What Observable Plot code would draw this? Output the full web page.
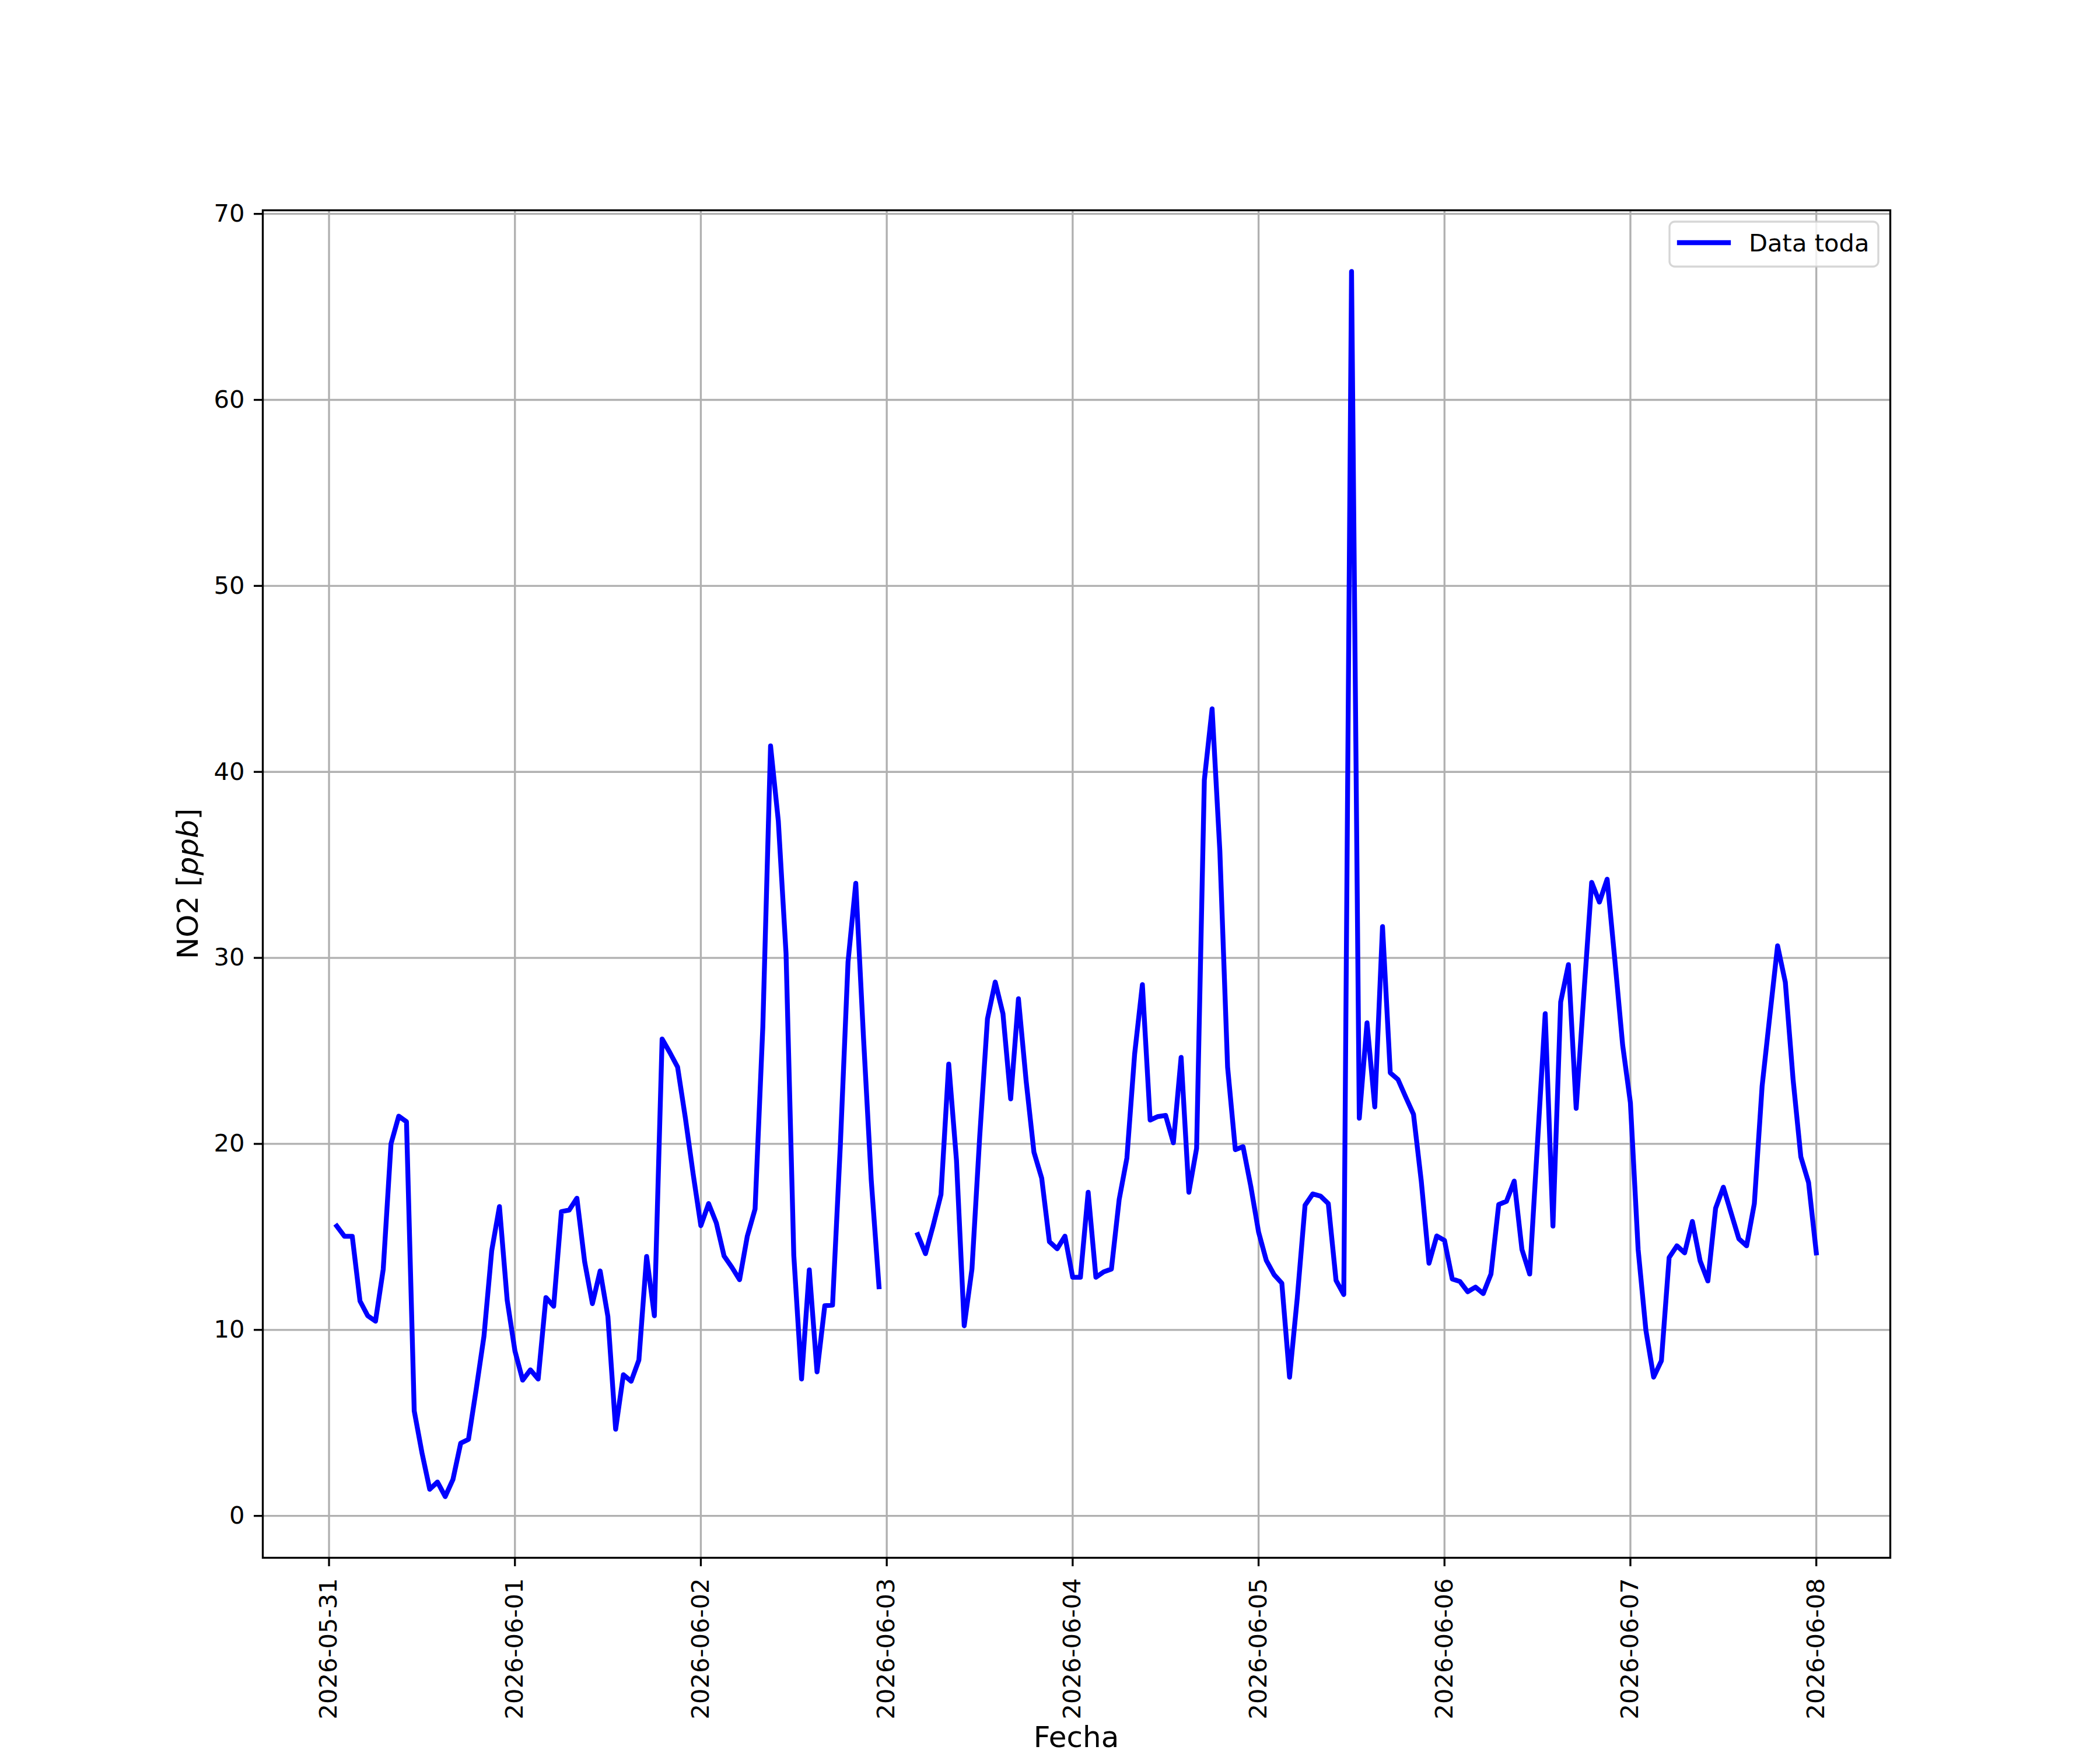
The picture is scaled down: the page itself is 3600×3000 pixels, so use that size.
<!DOCTYPE html>
<html>
<head>
<meta charset="utf-8">
<script src="https://cdn.jsdelivr.net/npm/d3@7"></script>
<script src="https://cdn.jsdelivr.net/npm/@observablehq/plot@0.6"></script>
<style>
  html, body { margin: 0; padding: 0; background: #ffffff; }
  #chart { position: relative; width: 3600px; height: 3000px; }
  #chart svg { font-family: "DejaVu Sans", sans-serif; background: #ffffff; color: #000000; }
</style>
</head>
<body>
<div id="chart"></div>
<script>
// Hourly NO2 readings (ppb). The first reading is 2026-05-31 01:00 (UTC), one per hour.
const startTime = "2026-05-31T01:00:00Z";

const day0531 = [15.58, 15.03, 15.03, 11.55, 10.76, 10.47, 13.27, 20.0, 21.49, 21.19, 5.64, 3.39,
                 1.43, 1.82, 1.04, 1.96, 3.91, 4.11, 6.81, 9.65, 14.25, 16.63, 11.6];
const day0601 = [8.87, 7.30, 7.85, 7.36, 11.74, 11.27, 16.36, 16.44, 17.08, 13.66, 11.41, 13.17,
                 10.72, 4.66, 7.59, 7.24, 8.38, 13.95, 10.76, 25.64, 24.91, 24.13, 21.4, 18.4];
const day0602 = [15.6, 16.79, 15.75, 13.97, 13.37, 12.7, 15.04, 16.5, 26.28, 41.4, 37.37, 30.22,
                 14.0, 7.36, 13.23, 7.74, 11.3, 11.33, 19.85, 29.78, 34.01, 25.69, 18.04, 12.32];
const day0603 = [null, null, null, null, 15.12, 14.1, 15.62, 17.28, 24.29, 19.12, 10.22, 13.28,
                 20.4, 26.72, 28.7, 27.0, 22.42, 27.8, 23.36, 19.56, 18.16, 14.74, 14.36, 15.04];
const day0604 = [12.83, 12.83, 17.4, 12.83, 13.12, 13.27, 17.0, 19.24, 24.83, 28.56, 21.28, 21.47,
                 21.53, 20.06, 24.65, 17.4, 19.76, 39.57, 43.39, 35.75, 24.13, 19.69, 19.85, 17.71];
const day0605 = [15.26, 13.73, 12.97, 12.51, 7.46, 11.74, 16.7, 17.31, 17.19, 16.79, 12.66, 11.9,
                 66.9, 21.38, 26.51, 21.99, 31.68, 23.82, 23.46, 22.51, 21.59, 18.01, 13.58, 15.05];
const day0606 = [14.81, 12.74, 12.6, 12.05, 12.3, 11.95, 13.0, 16.74, 16.91, 18.0, 14.32, 13.0,
                 20.0, 27.0, 15.58, 27.63, 29.64, 21.91, 28.1, 34.06, 33.0, 34.23, 29.85, 25.31];
const day0607 = [22.21, 14.32, 9.98, 7.46, 8.34, 13.89, 14.52, 14.14, 15.83, 13.71, 12.63, 16.54,
                 17.67, 16.28, 14.9, 14.52, 16.79, 23.09, 26.9, 30.65, 28.69, 23.47, 19.31, 17.92];
const day0608 = [14.14];

const xTickLabels = ["2026-05-31", "2026-06-01", "2026-06-02", "2026-06-03", "2026-06-04",
                     "2026-06-05", "2026-06-06", "2026-06-07", "2026-06-08"];
const yTicks = [0, 10, 20, 30, 40, 50, 60, 70];

const seriesName = "Data toda";
const xLabel = "Fecha";

// Build the table
const allValues = [].concat(day0531, day0601, day0602, day0603, day0604, day0605, day0606, day0607, day0608);
const t0 = new Date(startTime).getTime();
const data = allValues.map((v, i) => ({
  date: new Date(t0 + i * 3600 * 1000),
  value: v == null ? NaN : v
}));
const xTicks = xTickLabels.map(s => new Date(s + "T00:00:00Z"));

// Matplotlib-like 5% margins
const defined = data.filter(d => !isNaN(d.value));
const [xmin, xmax] = d3.extent(defined, d => d.date.getTime());
const [ymin, ymax] = d3.extent(defined, d => d.value);
const xm = (xmax - xmin) * 0.05, ym = (ymax - ymin) * 0.05;

const FS = 41.67;   // 10pt at 300 dpi (tick labels, legend)
const LFS = 50;     // 12pt at 300 dpi (axis labels)
const LW = 3.33;    // 0.8pt
const SW = 8.33;    // 2pt series line

const plot = Plot.plot({
  width: 3600,
  height: 3000,
  marginLeft: 450,
  marginRight: 360,
  marginTop: 360,
  marginBottom: 330,
  style: { fontFamily: "DejaVu Sans, sans-serif", background: "#ffffff", color: "#000000" },
  x: { type: "utc", domain: [new Date(xmin - xm), new Date(xmax + xm)] },
  y: { domain: [ymin - ym, ymax + ym] },
  marks: [
    Plot.gridX(xTicks, { stroke: "#b0b0b0", strokeOpacity: 1, strokeWidth: LW }),
    Plot.gridY(yTicks, { stroke: "#b0b0b0", strokeOpacity: 1, strokeWidth: LW }),
    Plot.line(data, {
      x: "date", y: "value",
      stroke: "#0000ff", strokeWidth: SW,
      strokeLinejoin: "round", strokeLinecap: "square"
    }),
    Plot.frame({ stroke: "#000000", strokeWidth: LW }),
    Plot.axisX(xTicks, {
      tickFormat: d3.utcFormat("%Y-%m-%d"),
      tickRotate: -90, tickSize: 15, tickPadding: 20,
      fontSize: FS, strokeWidth: LW, label: null, fill: "#000000", stroke: "#000000"
    }),
    Plot.axisY(yTicks, {
      tickSize: 15, tickPadding: 16,
      fontSize: FS, strokeWidth: LW, label: null, fill: "#000000", stroke: "#000000"
    })
  ]
});

document.getElementById("chart").appendChild(plot);

const svg = d3.select(plot);

// Axis labels
svg.append("text")
  .attr("x", 1845).attr("y", 2995)
  .attr("text-anchor", "middle")
  .attr("font-size", LFS)
  .attr("fill", "#000000")
  .text(xLabel);

const yl = svg.append("text")
  .attr("transform", "translate(339,1515) rotate(-90)")
  .attr("text-anchor", "middle")
  .attr("font-size", LFS)
  .attr("fill", "#000000");
yl.append("tspan").text("NO2 [");
yl.append("tspan").attr("font-style", "italic").text("ppb");
yl.append("tspan").text("]");

// Legend (upper right)
const lg = svg.append("g").attr("text-anchor", "start");
lg.append("rect")
  .attr("x", 2862).attr("y", 380).attr("width", 358).attr("height", 77)
  .attr("rx", 9).attr("ry", 9)
  .attr("fill", "#ffffff").attr("fill-opacity", 0.8)
  .attr("stroke", "#cccccc").attr("stroke-opacity", 0.8).attr("stroke-width", LW);
lg.append("line")
  .attr("x1", 2879).attr("x2", 2963).attr("y1", 416).attr("y2", 416)
  .attr("stroke", "#0000ff").attr("stroke-width", SW).attr("stroke-linecap", "square");
lg.append("text")
  .attr("x", 2998).attr("y", 431)
  .attr("text-anchor", "start")
  .attr("font-size", FS).attr("fill", "#000000")
  .text(seriesName);
</script>
</body>
</html>
